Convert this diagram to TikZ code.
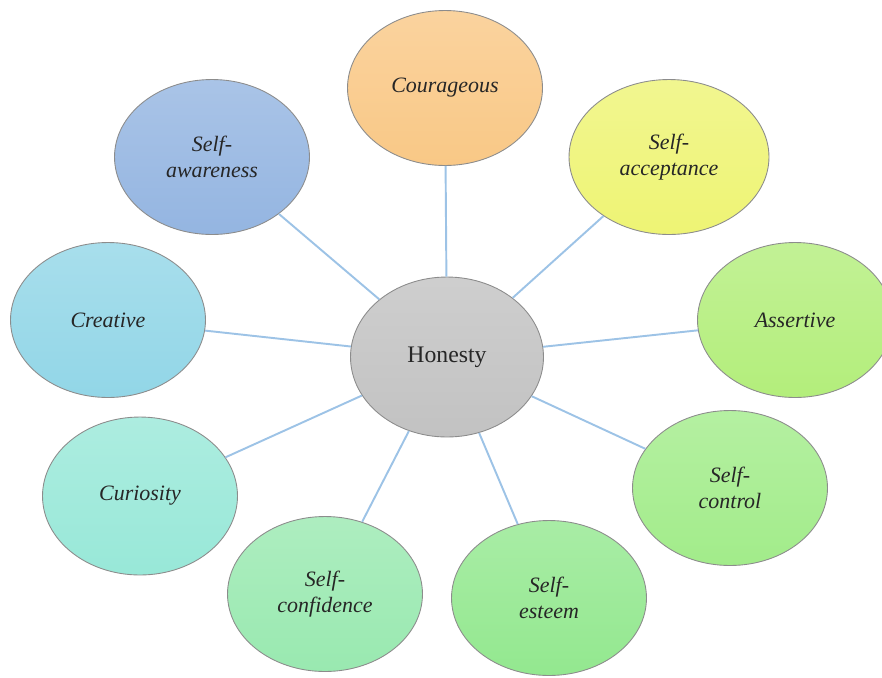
\documentclass[tikz,border=0pt]{standalone}
\usepackage{fontspec}
\setmainfont{Liberation Serif}
\usetikzlibrary{shapes.geometric}
\definecolor{courage}{HTML}{F9C886}
\definecolor{accept}{HTML}{EEF474}
\definecolor{assert}{HTML}{B3EE7B}
\definecolor{control}{HTML}{A2EC8A}
\definecolor{esteem}{HTML}{93E88F}
\definecolor{confid}{HTML}{99E9B0}
\definecolor{curious}{HTML}{98E8D8}
\definecolor{creative}{HTML}{92D6E7}
\definecolor{aware}{HTML}{94B5E1}
\definecolor{honest}{HTML}{C2C2C2}
\definecolor{spokeblue}{HTML}{9DC3E6}

\begin{document}
\begin{tikzpicture}[x=0.02cm,y=-0.02cm,
  bubble/.style={ellipse, draw=black!45, line width=0.5pt,
    top color=#1!80!white, bottom color=#1,
    minimum width=3.9cm, minimum height=3.1cm, inner sep=0pt,
    align=center, text=black!85,
    font=\itshape\fontsize{12.5}{15}\selectfont},
  spoke/.style={draw=spokeblue, line width=1.1pt}]

\path [use as bounding box] (0,0) rectangle (882,677);

% Bubbles
\node [bubble=honest, minimum width=3.86cm, minimum height=3.2cm,
  font=\fontsize{13.5}{15}\selectfont] (honesty) at (447,357) {Honesty};
\node [bubble=courage] (courageous) at (445,88) {Courageous};
\node [bubble=accept, minimum width=4cm] (acceptance) at (669,157) {Self-\\acceptance};
\node [bubble=assert] (assertive) at (795,320) {Assertive};
\node [bubble=control] (control) at (730,488) {Self-\\control};
\node [bubble=esteem] (esteem) at (549,598) {Self-\\esteem};
\node [bubble=confid] (confidence) at (325,594) {Self-\\confidence};
\node [bubble=curious, minimum height=3.16cm] (curiosity) at (140,496) {Curiosity};
\node [bubble=creative] (creative) at (108,320) {Creative};
\node [bubble=aware] (awareness) at (212,157) {Self-\\awareness};

% Spokes
\foreach \n in {courageous,acceptance,assertive,control,esteem,
                confidence,curiosity,creative,awareness}
  \draw [spoke] (honesty) -- (\n);

\end{tikzpicture}
\end{document}
